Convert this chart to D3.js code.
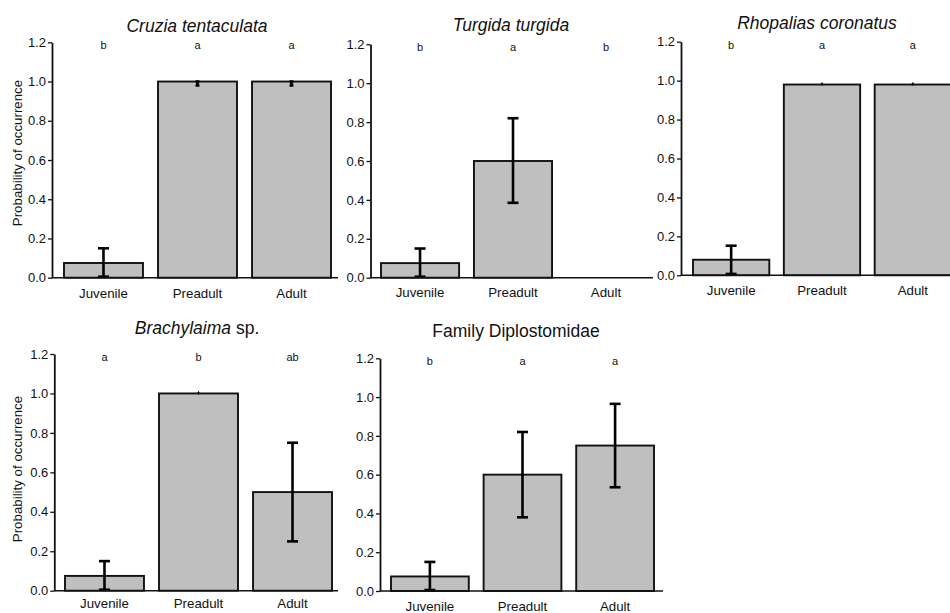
<!DOCTYPE html>
<html>
<head>
<meta charset="utf-8">
<script src="https://cdn.jsdelivr.net/npm/d3@7"></script>
<style>
  html, body { margin: 0; padding: 0; background: #fff; }
  svg { display: block; font-family: "Liberation Sans", Arial, Helvetica, sans-serif; }
</style>
</head>
<body>
<svg id="chart" width="950" height="613"></svg>
<script>
// Life-stage categories shared by every panel
const categories = ["Juvenile", "Preadult", "Adult"];
const yTicks = [0.0, 0.2, 0.4, 0.6, 0.8, 1.0, 1.2];

// Cruzia tentaculata
const cruziaMean  = [0.075, 1.0, 1.0];
const cruziaLower = [0.005, 0.98, 0.98];
const cruziaUpper = [0.15, 1.0, 1.0];
const cruziaLetters = ["b", "a", "a"];

// Turgida turgida
const turgidaMean  = [0.075, 0.6, 0.0];
const turgidaLower = [0.005, 0.385, 0.0];
const turgidaUpper = [0.15, 0.82, 0.0];
const turgidaLetters = ["b", "a", "b"];

// Rhopalias coronatus
const rhopaliasMean  = [0.08, 0.98, 0.98];
const rhopaliasLower = [0.007, 0.98, 0.98];
const rhopaliasUpper = [0.152, 0.985, 0.985];
const rhopaliasLetters = ["b", "a", "a"];

// Brachylaima sp.
const brachyMean  = [0.075, 1.0, 0.5];
const brachyLower = [0.005, 1.0, 0.25];
const brachyUpper = [0.15, 1.005, 0.75];
const brachyLetters = ["a", "b", "ab"];

// Family Diplostomidae
const diploMean  = [0.075, 0.6, 0.75];
const diploLower = [0.005, 0.38, 0.535];
const diploUpper = [0.15, 0.82, 0.965];
const diploLetters = ["b", "a", "a"];

const yLabelText = "Probability of occurrence";

// Panel placement on the page
const panels = [
  { title: [{ t: "Cruzia tentaculata", i: true }], mean: cruziaMean, lo: cruziaLower, hi: cruziaUpper, letters: cruziaLetters,
    axisX: 52, yZero: 277.7, yTop: 42.3, barL: 64, barR: 331, axisEnd: 338, titleX: 197, titleY: 31.5, labelY: 297.5, yLabel: [17, 153] },
  { title: [{ t: "Turgida turgida", i: true }], mean: turgidaMean, lo: turgidaLower, hi: turgidaUpper, letters: turgidaLetters,
    axisX: 370.5, yZero: 277.7, yTop: 44.3, barL: 381, barR: 645, axisEnd: 653, titleX: 511, titleY: 31, labelY: 296.5 },
  { title: [{ t: "Rhopalias coronatus", i: true }], mean: rhopaliasMean, lo: rhopaliasLower, hi: rhopaliasUpper, letters: rhopaliasLetters,
    axisX: 681, yZero: 275.3, yTop: 41.7, barL: 693, barR: 951, axisEnd: 951, titleX: 817, titleY: 28.5, labelY: 295 },
  { title: [{ t: "Brachylaima", i: true }, { t: " sp.", i: false }], mean: brachyMean, lo: brachyLower, hi: brachyUpper, letters: brachyLetters,
    axisX: 54.3, yZero: 590.7, yTop: 354, barL: 65, barR: 332, axisEnd: 338, titleX: 197, titleY: 334.3, labelY: 608, yLabel: [17, 469] },
  { title: [{ t: "Family Diplostomidae", i: false }], mean: diploMean, lo: diploLower, hi: diploUpper, letters: diploLetters,
    axisX: 380, yZero: 591, yTop: 358.3, barL: 391, barR: 654, axisEnd: 663, titleX: 516, titleY: 337, labelY: 611 }
];

const svg = d3.select("#chart");
const fmt = d3.format(".1f");

panels.forEach(p => {
  const g = svg.append("g");

  const x = d3.scaleBand()
    .domain(categories)
    .range([p.barL, p.barR])
    .paddingInner(0.16)
    .paddingOuter(0);

  const y = d3.scaleLinear()
    .domain([0, 1.2])
    .range([p.yZero, p.yTop]);

  const rows = categories.map((c, i) => ({ c, m: p.mean[i], lo: p.lo[i], hi: p.hi[i], letter: p.letters[i] }));

  // bars
  g.selectAll("rect.bar").data(rows).join("rect")
    .attr("class", "bar")
    .attr("x", d => x(d.c))
    .attr("width", x.bandwidth())
    .attr("y", d => y(d.m))
    .attr("height", d => y(0) - y(d.m))
    .attr("fill", "#bfbfbf")
    .attr("stroke", "#111")
    .attr("stroke-width", 1.9);

  // error bars
  const eb = g.selectAll("g.err").data(rows.filter(d => d.hi > d.lo)).join("g").attr("class", "err")
    .attr("stroke", "#000").attr("stroke-width", 2.6).attr("fill", "none");
  eb.each(function (d) {
    const cx = x(d.c) + x.bandwidth() / 2;
    const span = y(d.lo) - y(d.hi);
    const half = Math.min(5.5, span / 2);
    const e = d3.select(this);
    e.append("line").attr("x1", cx).attr("x2", cx).attr("y1", y(d.lo)).attr("y2", y(d.hi));
    e.append("line").attr("x1", cx - half).attr("x2", cx + half).attr("y1", y(d.hi)).attr("y2", y(d.hi));
    e.append("line").attr("x1", cx - half).attr("x2", cx + half).attr("y1", y(d.lo)).attr("y2", y(d.lo));
  });

  // x axis baseline
  g.append("line")
    .attr("x1", p.axisX).attr("x2", p.axisEnd)
    .attr("y1", y(0)).attr("y2", y(0))
    .attr("stroke", "#111").attr("stroke-width", 1.6);

  // y axis
  const yAxis = g.append("g")
    .attr("transform", `translate(${p.axisX},0)`)
    .call(d3.axisLeft(y).tickValues(yTicks).tickFormat(fmt).tickSize(4).tickPadding(2).tickSizeOuter(0));
  yAxis.select(".domain").attr("stroke", "#111").attr("stroke-width", 1.8);
  yAxis.selectAll(".tick line").attr("stroke", "#111").attr("stroke-width", 1.3);
  yAxis.selectAll(".tick text").attr("font-size", 13).attr("fill", "#111")
    .attr("font-family", "'Liberation Sans', Arial, sans-serif");

  // category labels
  g.selectAll("text.cat").data(rows).join("text")
    .attr("class", "cat")
    .attr("x", d => x(d.c) + x.bandwidth() / 2)
    .attr("y", p.labelY)
    .attr("text-anchor", "middle")
    .attr("font-size", 13.3)
    .attr("fill", "#111")
    .text(d => d.c);

  // significance letters
  g.selectAll("text.sig").data(rows).join("text")
    .attr("class", "sig")
    .attr("x", d => x(d.c) + x.bandwidth() / 2)
    .attr("y", y(1.2) + 7)
    .attr("text-anchor", "middle")
    .attr("font-size", 11)
    .attr("fill", "#111")
    .text(d => d.letter);

  // panel title
  const t = g.append("text")
    .attr("x", p.titleX).attr("y", p.titleY)
    .attr("text-anchor", "middle")
    .attr("font-size", 17.5)
    .attr("fill", "#111");
  p.title.forEach(s => t.append("tspan").attr("font-style", s.i ? "italic" : "normal").text(s.t));

  // y axis title
  if (p.yLabel) {
    g.append("text")
      .attr("transform", `translate(${p.yLabel[0]},${p.yLabel[1]}) rotate(-90)`)
      .attr("text-anchor", "middle")
      .attr("dy", "0.35em")
      .attr("font-size", 13.3)
      .attr("fill", "#111")
      .text(yLabelText);
  }
});
</script>
</body>
</html>
